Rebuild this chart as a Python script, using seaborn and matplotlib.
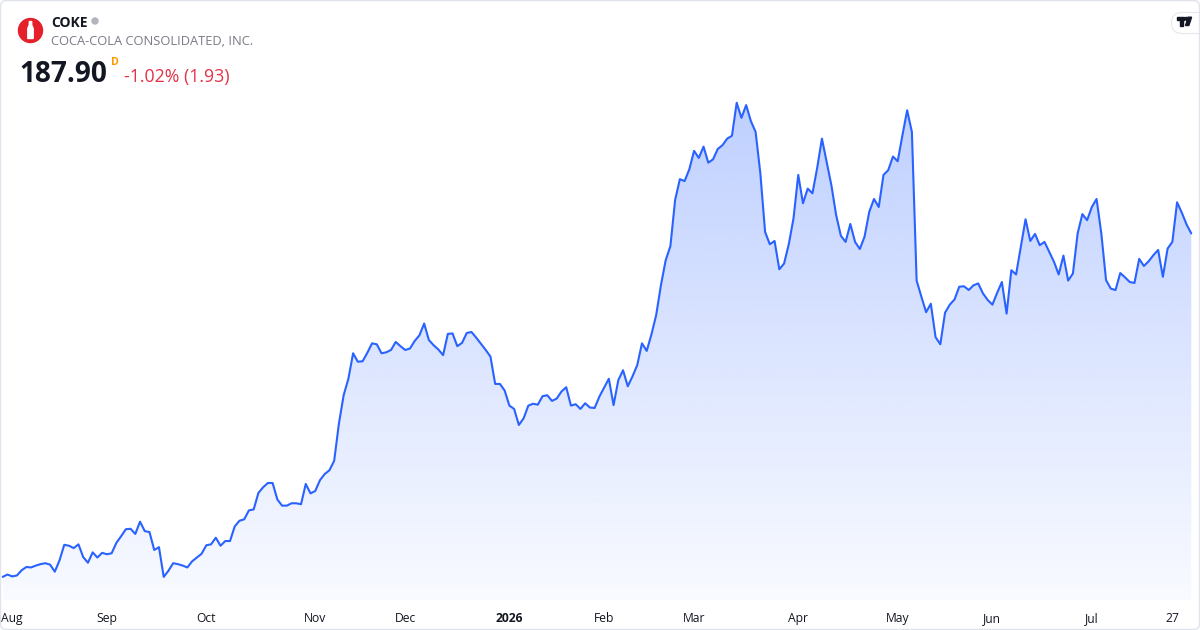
import matplotlib
matplotlib.use("Agg")
import numpy as np
import pandas as pd
import seaborn as sns
import matplotlib.pyplot as plt
from matplotlib.patches import Circle, Polygon, FancyBboxPatch, Rectangle
from matplotlib.transforms import IdentityTransform

ticker = "COKE"
company = "COCA-COLA CONSOLIDATED, INC."
last_price = "187.90"
change_text = "-1.02% (1.93)"

# daily closes (one per trading day, end of Jul 2025 .. end of Jul 2026)
closes = [
    115.1, 115.6, 115.2, 115.4, 116.5, 117.2, 117.1, 117.5, 117.8, 118.0,
    117.7, 116.2, 118.6, 121.9, 121.7, 121.2, 122.0, 119.3, 118.1, 120.3,
    119.2, 120.2, 119.9, 120.1, 122.3, 123.7, 125.2, 125.3, 124.2, 126.8,
    124.8, 124.6, 120.8, 121.4, 115.1, 116.4, 118.0, 117.8, 117.5, 117.1,
    118.4, 119.2, 120.0, 121.8, 122.0, 123.4, 121.7, 122.7, 122.7, 125.8,
    127.0, 127.3, 129.2, 129.4, 132.9, 134.1, 135.0, 135.0, 131.5, 130.2,
    130.2, 130.7, 130.7, 130.5, 134.8, 132.8, 133.3, 135.6, 136.9, 137.7,
    139.7, 147.6, 153.6, 157.1, 162.5, 160.7, 160.8, 162.6, 164.6, 164.4,
    162.5, 162.7, 163.2, 164.9, 164.0, 163.2, 163.5, 165.1, 166.3, 168.8,
    165.3, 164.2, 163.3, 162.1, 166.6, 166.7, 164.0, 164.7, 166.8, 167.0,
    165.8, 164.5, 163.2, 161.8, 156.0, 156.0, 154.6, 151.4, 150.7, 147.3,
    148.7, 151.4, 151.8, 151.6, 153.4, 153.6, 152.4, 152.9, 154.4, 155.3,
    151.4, 151.7, 150.7, 151.9, 151.0, 150.9, 153.3, 155.2, 157.1, 151.5,
    156.8, 158.9, 155.5, 157.6, 160.0, 164.6, 163.0, 166.5, 170.6, 176.9,
    182.2, 185.2, 195.0, 199.4, 199.0, 201.5, 205.4, 203.9, 206.3, 202.9,
    203.6, 205.8, 206.6, 208.0, 208.6, 215.6, 212.4, 215.1, 211.7, 209.4,
    200.6, 188.2, 185.6, 186.3, 180.3, 181.5, 185.6, 191.1, 200.3, 194.3,
    197.4, 196.4, 201.8, 208.0, 203.1, 198.1, 191.8, 187.4, 186.1, 189.9,
    186.1, 184.6, 187.2, 192.5, 195.2, 193.5, 200.3, 201.3, 204.2, 203.2,
    208.7, 214.0, 209.4, 177.9, 174.5, 171.2, 173.0, 165.9, 164.4, 171.1,
    172.8, 173.9, 176.6, 176.7, 175.9, 176.9, 177.3, 175.2, 173.8, 172.8,
    175.3, 177.6, 170.9, 180.1, 179.2, 185.1, 190.9, 186.3, 187.8, 185.4,
    186.1, 184.0, 181.9, 179.2, 183.2, 177.9, 179.4, 187.9, 192.0, 190.7,
    193.5, 195.2, 187.9, 178.0, 176.2, 175.9, 179.5, 178.6, 177.6, 177.4,
    182.5, 181.0, 182.0, 183.3, 184.4, 178.7, 184.7, 186.1, 194.5, 192.3,
    189.8, 187.9,
]

# trading-day index where each axis label sits
tick_days = [2, 22, 43, 66, 85, 107, 127, 146, 168, 189, 209, 230, 247]
tick_labels = ["Aug", "Sep", "Oct", "Nov", "Dec", "2026", "Feb", "Mar",
               "Apr", "May", "Jun", "Jul", "27"]

LINE = "#2962ff"
TEXT = "#131722"
W, H = 1200, 630

sns.set_style("white")
plt.rcParams["font.family"] = ["Open Sans", "DejaVu Sans"]

df = pd.DataFrame({"day": np.arange(len(closes)), "close": closes})

fig = plt.figure(figsize=(W / 100, H / 100), dpi=100)
fig.patch.set_facecolor("white")
ax = fig.add_axes([0, 30 / H, 1, 510 / H])
ax.set_facecolor("white")

y_lo, y_hi = 110.2, 218.3

# gradient area under the line
grad = np.zeros((256, 1, 4))
grad[..., 0] = 41 / 255
grad[..., 1] = 98 / 255
grad[..., 2] = 1.0
grad[:, 0, 3] = np.linspace(0.03, 0.30, 256)
im = ax.imshow(grad, extent=[df.day.iloc[0], df.day.iloc[-1], y_lo, df.close.max()],
               origin="lower", aspect="auto", zorder=1, interpolation="bilinear")
verts = np.column_stack([np.r_[df.day, df.day.iloc[-1], df.day.iloc[0]],
                         np.r_[df.close, y_lo, y_lo]])
clip = Polygon(verts, closed=True, transform=ax.transData,
               facecolor="none", edgecolor="none")
ax.add_patch(clip)
im.set_clip_path(clip)

sns.lineplot(data=df, x="day", y="close", color=LINE, linewidth=1.5, ax=ax, zorder=3)

ax.set_xlim(-0.57, len(closes) - 1 + 1.84)
ax.set_ylim(y_lo, y_hi)
ax.set_xticks(tick_days)
ax.set_xticklabels(tick_labels)
ax.tick_params(axis="x", length=0, pad=8.5, labelsize=8.7, labelcolor=TEXT)
ax.get_xticklabels()[tick_labels.index("2026")].set_fontweight("bold")
ax.set_yticks([])
ax.set_xlabel("")
ax.set_ylabel("")
for s in ax.spines.values():
    s.set_visible(False)


def fx(x):
    return x / W


def fy(y):
    return 1 - y / H


# header
ident = IdentityTransform()
fig.add_artist(Circle((30.5, H - 30.5), 12, transform=ident, color="#e5202a"))
bottle = [(29.3, 21.5), (31.7, 21.5), (31.7, 25), (33.2, 28.5), (33.2, 38.5),
          (27.8, 38.5), (27.8, 28.5), (29.3, 25)]
fig.add_artist(Polygon([(x, H - y) for x, y in bottle], closed=True,
                       transform=ident, color="white"))
fig.text(fx(51), fy(26.7), ticker, fontsize=10, fontweight="bold", color=TEXT)
fig.add_artist(Circle((95, H - 21), 3, transform=ident, color="#b2b5be"))
fig.text(fx(51), fy(45), company, fontsize=9.3, color="#787b86")
fig.text(fx(19.5), fy(81.7), last_price, fontsize=20.2, fontweight="bold", color=TEXT)
fig.text(fx(110.5), fy(65), "D", fontsize=7.7, fontweight="bold", color="#ff9800")
fig.text(fx(124), fy(81.7), change_text, fontsize=12.8, color="#e2334a")

# tradingview badge
fig.add_artist(FancyBboxPatch((1171.5, H - 33.5), 45, 21,
                              boxstyle="round,pad=0,rounding_size=10.5",
                              transform=ident, facecolor="white",
                              edgecolor="#e6e7eb", linewidth=0.8))
fig.add_artist(Rectangle((1177, H - 20), 7, 2.8, transform=ident, color=TEXT))
fig.add_artist(Rectangle((1180.2, H - 25.5), 3, 6, transform=ident, color=TEXT))
fig.add_artist(Circle((1186.4, H - 18.8), 1.4, transform=ident, color=TEXT))
fig.add_artist(Polygon([(1188.3, H - 17.2), (1191.6, H - 17.2), (1188.8, H - 25.5),
                        (1185.5, H - 25.5)], closed=True, transform=ident, color=TEXT))

# outer frame
fig.add_artist(FancyBboxPatch((0.5, 0.5), W - 1, H - 1,
                              boxstyle="round,pad=0,rounding_size=6",
                              transform=ident, facecolor="none",
                              edgecolor="#e0e3eb", linewidth=1))

fig.savefig("out.png", dpi=100, facecolor="white")
